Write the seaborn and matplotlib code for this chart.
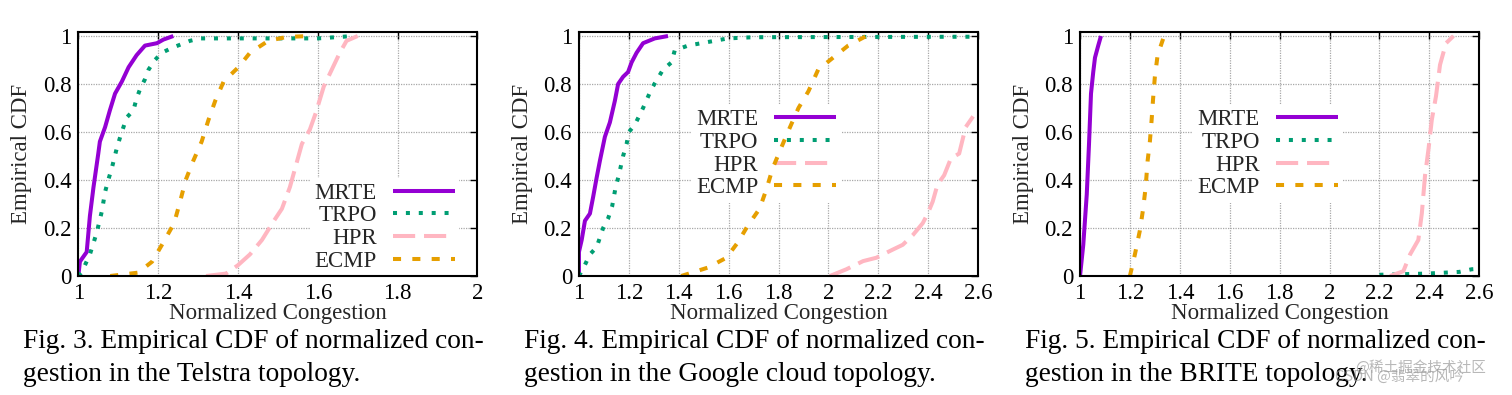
import numpy as np
import matplotlib
matplotlib.use('Agg')
import matplotlib.pyplot as plt
import seaborn as sns
from matplotlib.ticker import FormatStrFormatter

# ---------------- 数据 ----------------
# Fig.3 Telstra
T_MRTE_X = [1.0, 1.004, 1.021, 1.029, 1.038, 1.050, 1.054, 1.067, 1.079, 1.092, 1.109, 1.126, 1.146, 1.167, 1.197, 1.213, 1.238]
T_MRTE_Y = [0.0, 0.06, 0.10, 0.25, 0.37, 0.51, 0.56, 0.62, 0.69, 0.76, 0.81, 0.87, 0.92, 0.96, 0.97, 0.985, 1.0]
T_TRPO_X = [1.0, 1.008, 1.029, 1.046, 1.059, 1.067, 1.075, 1.084, 1.096, 1.105, 1.113, 1.121, 1.138, 1.146, 1.155, 1.167, 1.176, 1.192, 1.209, 1.234, 1.280, 1.305, 1.40, 1.60, 1.69]
T_TRPO_Y = [0.0, 0.014, 0.09, 0.18, 0.27, 0.35, 0.40, 0.45, 0.53, 0.58, 0.62, 0.66, 0.69, 0.74, 0.78, 0.82, 0.86, 0.90, 0.93, 0.95, 0.98, 0.99, 0.99, 0.99, 1.0]
T_HPR_X = [1.32, 1.37, 1.40, 1.43, 1.46, 1.49, 1.51, 1.53, 1.545, 1.56, 1.58, 1.595, 1.615, 1.635, 1.655, 1.672, 1.70]
T_HPR_Y = [0.0, 0.01, 0.045, 0.09, 0.15, 0.23, 0.28, 0.37, 0.46, 0.55, 0.61, 0.68, 0.79, 0.86, 0.93, 0.98, 1.0]
T_ECMP_X = [1.08, 1.15, 1.185, 1.213, 1.240, 1.255, 1.269, 1.288, 1.309, 1.326, 1.343, 1.364, 1.401, 1.43, 1.476, 1.522, 1.58]
T_ECMP_Y = [0.0, 0.014, 0.06, 0.14, 0.22, 0.31, 0.40, 0.48, 0.56, 0.65, 0.73, 0.81, 0.87, 0.93, 0.98, 0.996, 1.0]

# Fig.4 Google cloud
G_MRTE_X = [1.0, 1.0, 1.011, 1.024, 1.044, 1.057, 1.071, 1.084, 1.104, 1.124, 1.144, 1.157, 1.177, 1.197, 1.211, 1.231, 1.257, 1.304, 1.357]
G_MRTE_Y = [0.0, 0.10, 0.15, 0.23, 0.26, 0.33, 0.41, 0.48, 0.58, 0.64, 0.73, 0.80, 0.83, 0.85, 0.89, 0.93, 0.97, 0.99, 1.0]
G_TRPO_X = [1.0, 1.021, 1.044, 1.071, 1.097, 1.117, 1.133, 1.147, 1.160, 1.177, 1.191, 1.2, 1.224, 1.257, 1.291, 1.337, 1.371, 1.384, 1.437, 1.544, 1.597, 1.70, 2.6]
G_TRPO_Y = [0.0, 0.04, 0.09, 0.12, 0.20, 0.24, 0.29, 0.37, 0.42, 0.50, 0.55, 0.60, 0.63, 0.70, 0.78, 0.86, 0.89, 0.94, 0.96, 0.98, 0.99, 0.995, 0.997]
G_HPR_X = [2.006, 2.072, 2.139, 2.192, 2.258, 2.298, 2.338, 2.378, 2.398, 2.418, 2.437, 2.464, 2.491, 2.524, 2.550, 2.58]
G_HPR_Y = [0.0, 0.028, 0.062, 0.076, 0.11, 0.13, 0.17, 0.22, 0.26, 0.31, 0.38, 0.42, 0.49, 0.51, 0.62, 0.665]
G_ECMP_X = [1.41, 1.517, 1.591, 1.637, 1.677, 1.724, 1.751, 1.777, 1.813, 1.846, 1.880, 1.920, 1.959, 2.019, 2.079, 2.152]
G_ECMP_Y = [0.0, 0.035, 0.076, 0.14, 0.21, 0.28, 0.36, 0.45, 0.54, 0.62, 0.70, 0.77, 0.86, 0.91, 0.96, 1.0]

# Fig.5 BRITE
B_MRTE_X = [1.0, 1.013, 1.027, 1.036, 1.044, 1.053, 1.06, 1.073, 1.084]
B_MRTE_Y = [0.0, 0.13, 0.34, 0.55, 0.76, 0.85, 0.91, 0.96, 1.0]
B_TRPO_X = [2.2, 2.39, 2.52, 2.57, 2.6]
B_TRPO_Y = [0.005, 0.01, 0.017, 0.028, 0.03]
B_HPR_X = [2.243, 2.296, 2.323, 2.356, 2.370, 2.383, 2.397, 2.410, 2.427, 2.443, 2.467, 2.497]
B_HPR_Y = [0.0, 0.02, 0.09, 0.15, 0.26, 0.42, 0.53, 0.65, 0.75, 0.88, 0.97, 1.0]
B_ECMP_X = [1.2, 1.22, 1.24, 1.253, 1.263, 1.271, 1.28, 1.287, 1.293, 1.3, 1.311, 1.337]
B_ECMP_Y = [0.0, 0.09, 0.19, 0.28, 0.37, 0.48, 0.56, 0.65, 0.74, 0.83, 0.92, 1.0]

SERIES = ['MRTE', 'TRPO', 'HPR', 'ECMP']
X_TICKS_T = [1, 1.2, 1.4, 1.6, 1.8, 2]
X_TICKS_GB = [1, 1.2, 1.4, 1.6, 1.8, 2, 2.2, 2.4, 2.6]
Y_TICKS = [0, 0.2, 0.4, 0.6, 0.8, 1]
CAPTIONS = [
    ['Fig. 3. Empirical CDF of normalized con-', 'gestion in the Telstra topology.'],
    ['Fig. 4. Empirical CDF of normalized con-', 'gestion in the Google cloud topology.'],
    ['Fig. 5. Empirical CDF of normalized con-', 'gestion in the BRITE topology.'],
]

# ---------------- 样式 ----------------
sns.set_theme(style='white')
plt.rcParams['font.family'] = ['Liberation Serif', 'DejaVu Serif']

colors = {'MRTE': '#9400D3', 'TRPO': '#009E73', 'HPR': '#FFB6C1', 'ECMP': '#E69F00'}
styles = {'MRTE': '-', 'TRPO': (0, (1, 2.2)), 'HPR': (0, (5.5, 2.2)), 'ECMP': (0, (2, 2.8))}
FS = 16.5

fig = plt.figure(figsize=(15.12, 3.95), dpi=100)
lefts = [0.0518, 0.3829, 0.7143]
axes = [fig.add_axes([l, 0.3013, 0.2640, 0.6185]) for l in lefts]

panels = [
    [(T_MRTE_X, T_MRTE_Y), (T_TRPO_X, T_TRPO_Y), (T_HPR_X, T_HPR_Y), (T_ECMP_X, T_ECMP_Y)],
    [(G_MRTE_X, G_MRTE_Y), (G_TRPO_X, G_TRPO_Y), (G_HPR_X, G_HPR_Y), (G_ECMP_X, G_ECMP_Y)],
    [(B_MRTE_X, B_MRTE_Y), (B_TRPO_X, B_TRPO_Y), (B_HPR_X, B_HPR_Y), (B_ECMP_X, B_ECMP_Y)],
]
xlims = [(1, 2), (1, 2.6), (1, 2.6)]
xticks = [X_TICKS_T, X_TICKS_GB, X_TICKS_GB]
leg_anchor = [(0.954, 0.20), (0.656, 0.50), (0.657, 0.50)]

for i, ax in enumerate(axes):
    for name, (xs, ys) in zip(SERIES, panels[i]):
        sns.lineplot(x=xs, y=ys, sort=False, estimator=None, ax=ax, color=colors[name],
                     linestyle=styles[name], lw=2.9, label=name,
                     dash_capstyle='butt', solid_capstyle='butt', zorder=3)

    ax.set_xlim(*xlims[i])
    ax.set_ylim(0, 1.018)
    ax.set_xticks(xticks[i])
    ax.set_yticks(Y_TICKS)
    ax.xaxis.set_major_formatter(FormatStrFormatter('%g'))
    ax.yaxis.set_major_formatter(FormatStrFormatter('%g'))
    ax.tick_params(direction='in', length=5, width=1, top=True, right=True,
                   labelsize=FS, pad=5, colors='black')
    ax.set_axisbelow(True)
    ax.grid(True, color='#a8a8a8', linestyle=(0, (1, 1)), lw=0.9)
    for sp in ax.spines.values():
        sp.set_color('black')
        sp.set_linewidth(1.5)
        sp.set_zorder(4)

    ax.set_xlabel('Normalized Congestion', fontsize=FS)
    ax.set_ylabel('Empirical CDF', fontsize=FS)
    ax.xaxis.set_label_coords(0.5, -0.112)
    ax.yaxis.set_label_coords(-0.115, 0.5)

    h, l = ax.get_legend_handles_labels()
    leg = ax.legend(h, l, loc='center right', bbox_to_anchor=leg_anchor[i],
                    markerfirst=False, fontsize=FS, handlelength=2.7, handletextpad=0.7,
                    labelspacing=0.07, borderpad=0.2, borderaxespad=0,
                    frameon=True, facecolor='white', edgecolor='none', framealpha=1,
                    fancybox=False)
    leg.set_zorder(2)

    # 图注
    fig.text(lefts[i] - 0.0366, 0.118, CAPTIONS[i][0], fontsize=19.7, color='black')
    fig.text(lefts[i] - 0.0366, 0.036, CAPTIONS[i][1], fontsize=19.7, color='black')

# 水印
fig.text(0.896, 0.058, '@稀土掘金技术社区', fontsize=10.5, color='#9a9a9a', alpha=0.7,
         family=['Noto Sans CJK SC', 'DejaVu Sans'])
fig.text(0.883, 0.035, 'CSDN @翡翠的风吟', fontsize=10.5, color='#9a9a9a', alpha=0.7,
         family=['Noto Sans CJK SC', 'DejaVu Sans'])

fig.savefig('out.png', dpi=100, facecolor='white')
